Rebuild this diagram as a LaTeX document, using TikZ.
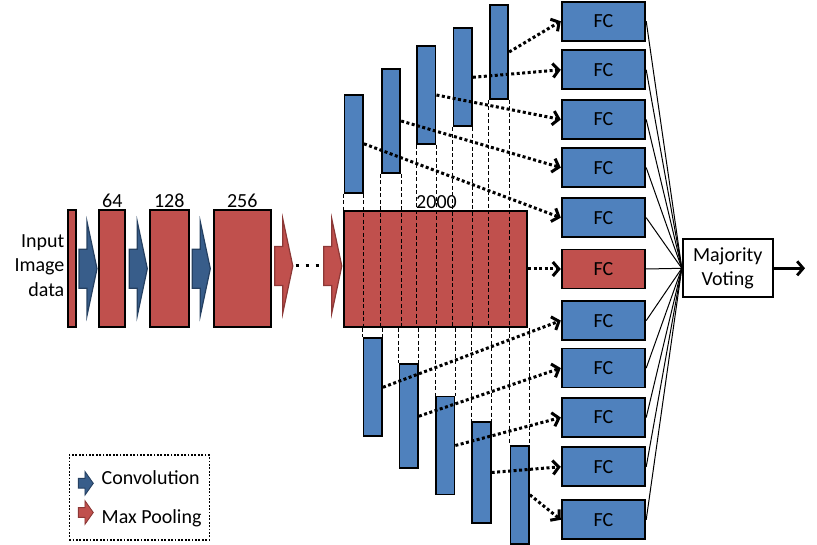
\documentclass[tikz,border=0pt]{standalone}
\usepackage{fontspec}
\setmainfont{Carlito}
\usetikzlibrary{arrows.meta,positioning}

\definecolor{layerred}{RGB}{192,80,77}
\definecolor{layerblue}{RGB}{79,129,189}
\definecolor{convfill}{RGB}{56,93,138}
\definecolor{convline}{RGB}{37,64,97}
\definecolor{poolline}{RGB}{140,56,54}

\tikzset{
	blockarrow/.pic={
		\path[pic actions] (-9,-19.5) -- (-1,-19.5) -- (-1,-47) -- (9,0)
			-- (-1,47) -- (-1,19.5) -- (-9,19.5) -- cycle;
	}
}

\begin{document}
\begin{tikzpicture}[
		x=1pt, y=-1pt,
		every node/.style={
			inner sep=0pt,
			font=\fontsize{20}{24.5}\selectfont
		},
		fmap/.style={draw=black, line width=2pt, fill=layerred, minimum height=117pt},
		branch/.style={draw=black, line width=1.8pt, fill=layerblue, minimum width=18.5pt, minimum height=98pt},
		fc/.style={draw=black, line width=1.8pt, fill=layerblue, minimum width=83.6pt, minimum height=39pt},
		conv/.style={fill=convfill, draw=convline, line width=1.2pt},
		pool/.style={fill=layerred, draw=poolline, line width=1.2pt},
		slice/.style={draw=black, line width=1pt, dash pattern=on 4pt off 2.5pt},
		feed/.style={line width=3pt, dash pattern=on 3pt off 2.5pt, -{Straight Barb[length=6pt,width=14pt]}},
		vote/.style={line width=1pt}
		]
		\useasboundingbox (0,0) rectangle (817,545);
		
		% input and conv layers
		\node[anchor=east, align=right] (inputtext) at (64.5,265.5) {Input\\Image\\data};
		\node[fmap, minimum width=7.7pt] (input) at (72.2,268.7) {};
		\node[fmap, minimum width=26pt] (l64) at (112.3,268.7) {};
		\node[fmap, minimum width=38.7pt] (l128) at (169.3,268.7) {};
		\node[fmap, minimum width=56.7pt] (l256) at (242.3,268.7) {};
		\node[above=1pt of l64] (lab64) {64};
		\node[above=1pt of l128] (lab128) {128};
		\node[above=1pt of l256] (lab256) {256};
		
		\pic[conv] at (88,268.7) {blockarrow};
		\pic[conv] at (138.3,268.7) {blockarrow};
		\pic[conv] at (201.3,268.7) {blockarrow};
		\pic[pool] at (283.8,266) {blockarrow};
		\pic[pool] at (332.8,266) {blockarrow};
		\draw[line width=3pt, dash pattern=on 3pt off 7pt] (295.5,266) -- (320,266);
		
		% last layer, split in slices
		\node[fmap, minimum width=183pt, minimum height=116pt] (big) at (435.5,269) {};
		
		\node[branch] (t1) at (353.8,143.8) {};
		\node[branch, minimum height=104pt] (t2) at (391,121) {};
		\node[branch] (t3) at (426.3,95) {};
		\node[branch] (t4) at (462.7,77.3) {};
		\node[branch, minimum height=94pt] (t5) at (499,52) {};
		
		\node[branch] (b1) at (372.8,387.3) {};
		\node[branch, minimum height=104pt] (b2) at (408.8,416.2) {};
		\node[branch] (b3) at (445.2,445.5) {};
		\node[branch, minimum height=101pt] (b4) at (481.5,472.5) {};
		\node[branch] (b5) at (519.7,494.8) {};
		
		\foreach \i in {1,...,5} {
			\draw[slice] (t\i.south west) -- (t\i.south west |- big.south);
			\draw[slice] (t\i.south east) -- (t\i.south east |- big.south);
			\draw[slice] (b\i.north west |- big.south) -- (b\i.north west);
			\draw[slice] (b\i.north east |- big.south) -- (b\i.north east);
		}
		\node[above=1pt of big, xshift=1pt] (lab2000) {2000};
		
		% classifiers
		\node[fc] (fc1) at (603.5,21.2) {FC};
		\node[fc] (fc2) at (603.5,69.8) {FC};
		\node[fc] (fc3) at (603.5,119.5) {FC};
		\node[fc] (fc4) at (603.5,167.6) {FC};
		\node[fc] (fc5) at (603.5,217.7) {FC};
		\node[fc, fill=layerred] (fc6) at (603.5,269) {FC};
		\node[fc] (fc7) at (603.5,320.6) {FC};
		\node[fc] (fc8) at (603.5,368.1) {FC};
		\node[fc] (fc9) at (603.5,417.5) {FC};
		\node[fc] (fc10) at (603.5,466.8) {FC};
		\node[fc] (fc11) at (603.5,519.8) {FC};
		
		\node[draw=black, line width=1.8pt, fill=white, minimum width=90pt, minimum height=58pt, align=center] (mv) at (727.7,268.3) {Majority\\Voting};
		\coordinate (out) at (805,268.3);
		
		\foreach \s/\d in {t5/fc1, t4/fc2, t3/fc3, t2/fc4, t1/fc5, big/fc6, b1/fc7, b2/fc8, b3/fc9, b4/fc10, b5/fc11}
			\draw[feed] (\s.east) -- (\d.west);
		\foreach \i in {1,...,11}
			\draw[vote] (fc\i.east) -- (mv.west);
		\draw[line width=2.8pt, -{Straight Barb[length=6pt,width=14pt]}] (mv.east) -- (out);
		
		% legend
		\node[draw=black, line width=1.4pt, dash pattern=on 1.8pt off 1.6pt, minimum width=140pt, minimum height=85pt] (legend) at (139.2,497.5) {};
		\pic[conv, line width=0.9pt, xscale=0.83, yscale=0.25] at (85.8,483.3) {blockarrow};
		\pic[pool, line width=0.9pt, xscale=0.83, yscale=0.25] at (85.8,512.5) {blockarrow};
		\node[anchor=west] (convtext) at (101.5,478) {Convolution};
		\node[anchor=west] (pooltext) at (101.5,518) {Max Pooling};
	\end{tikzpicture}
\end{document}
